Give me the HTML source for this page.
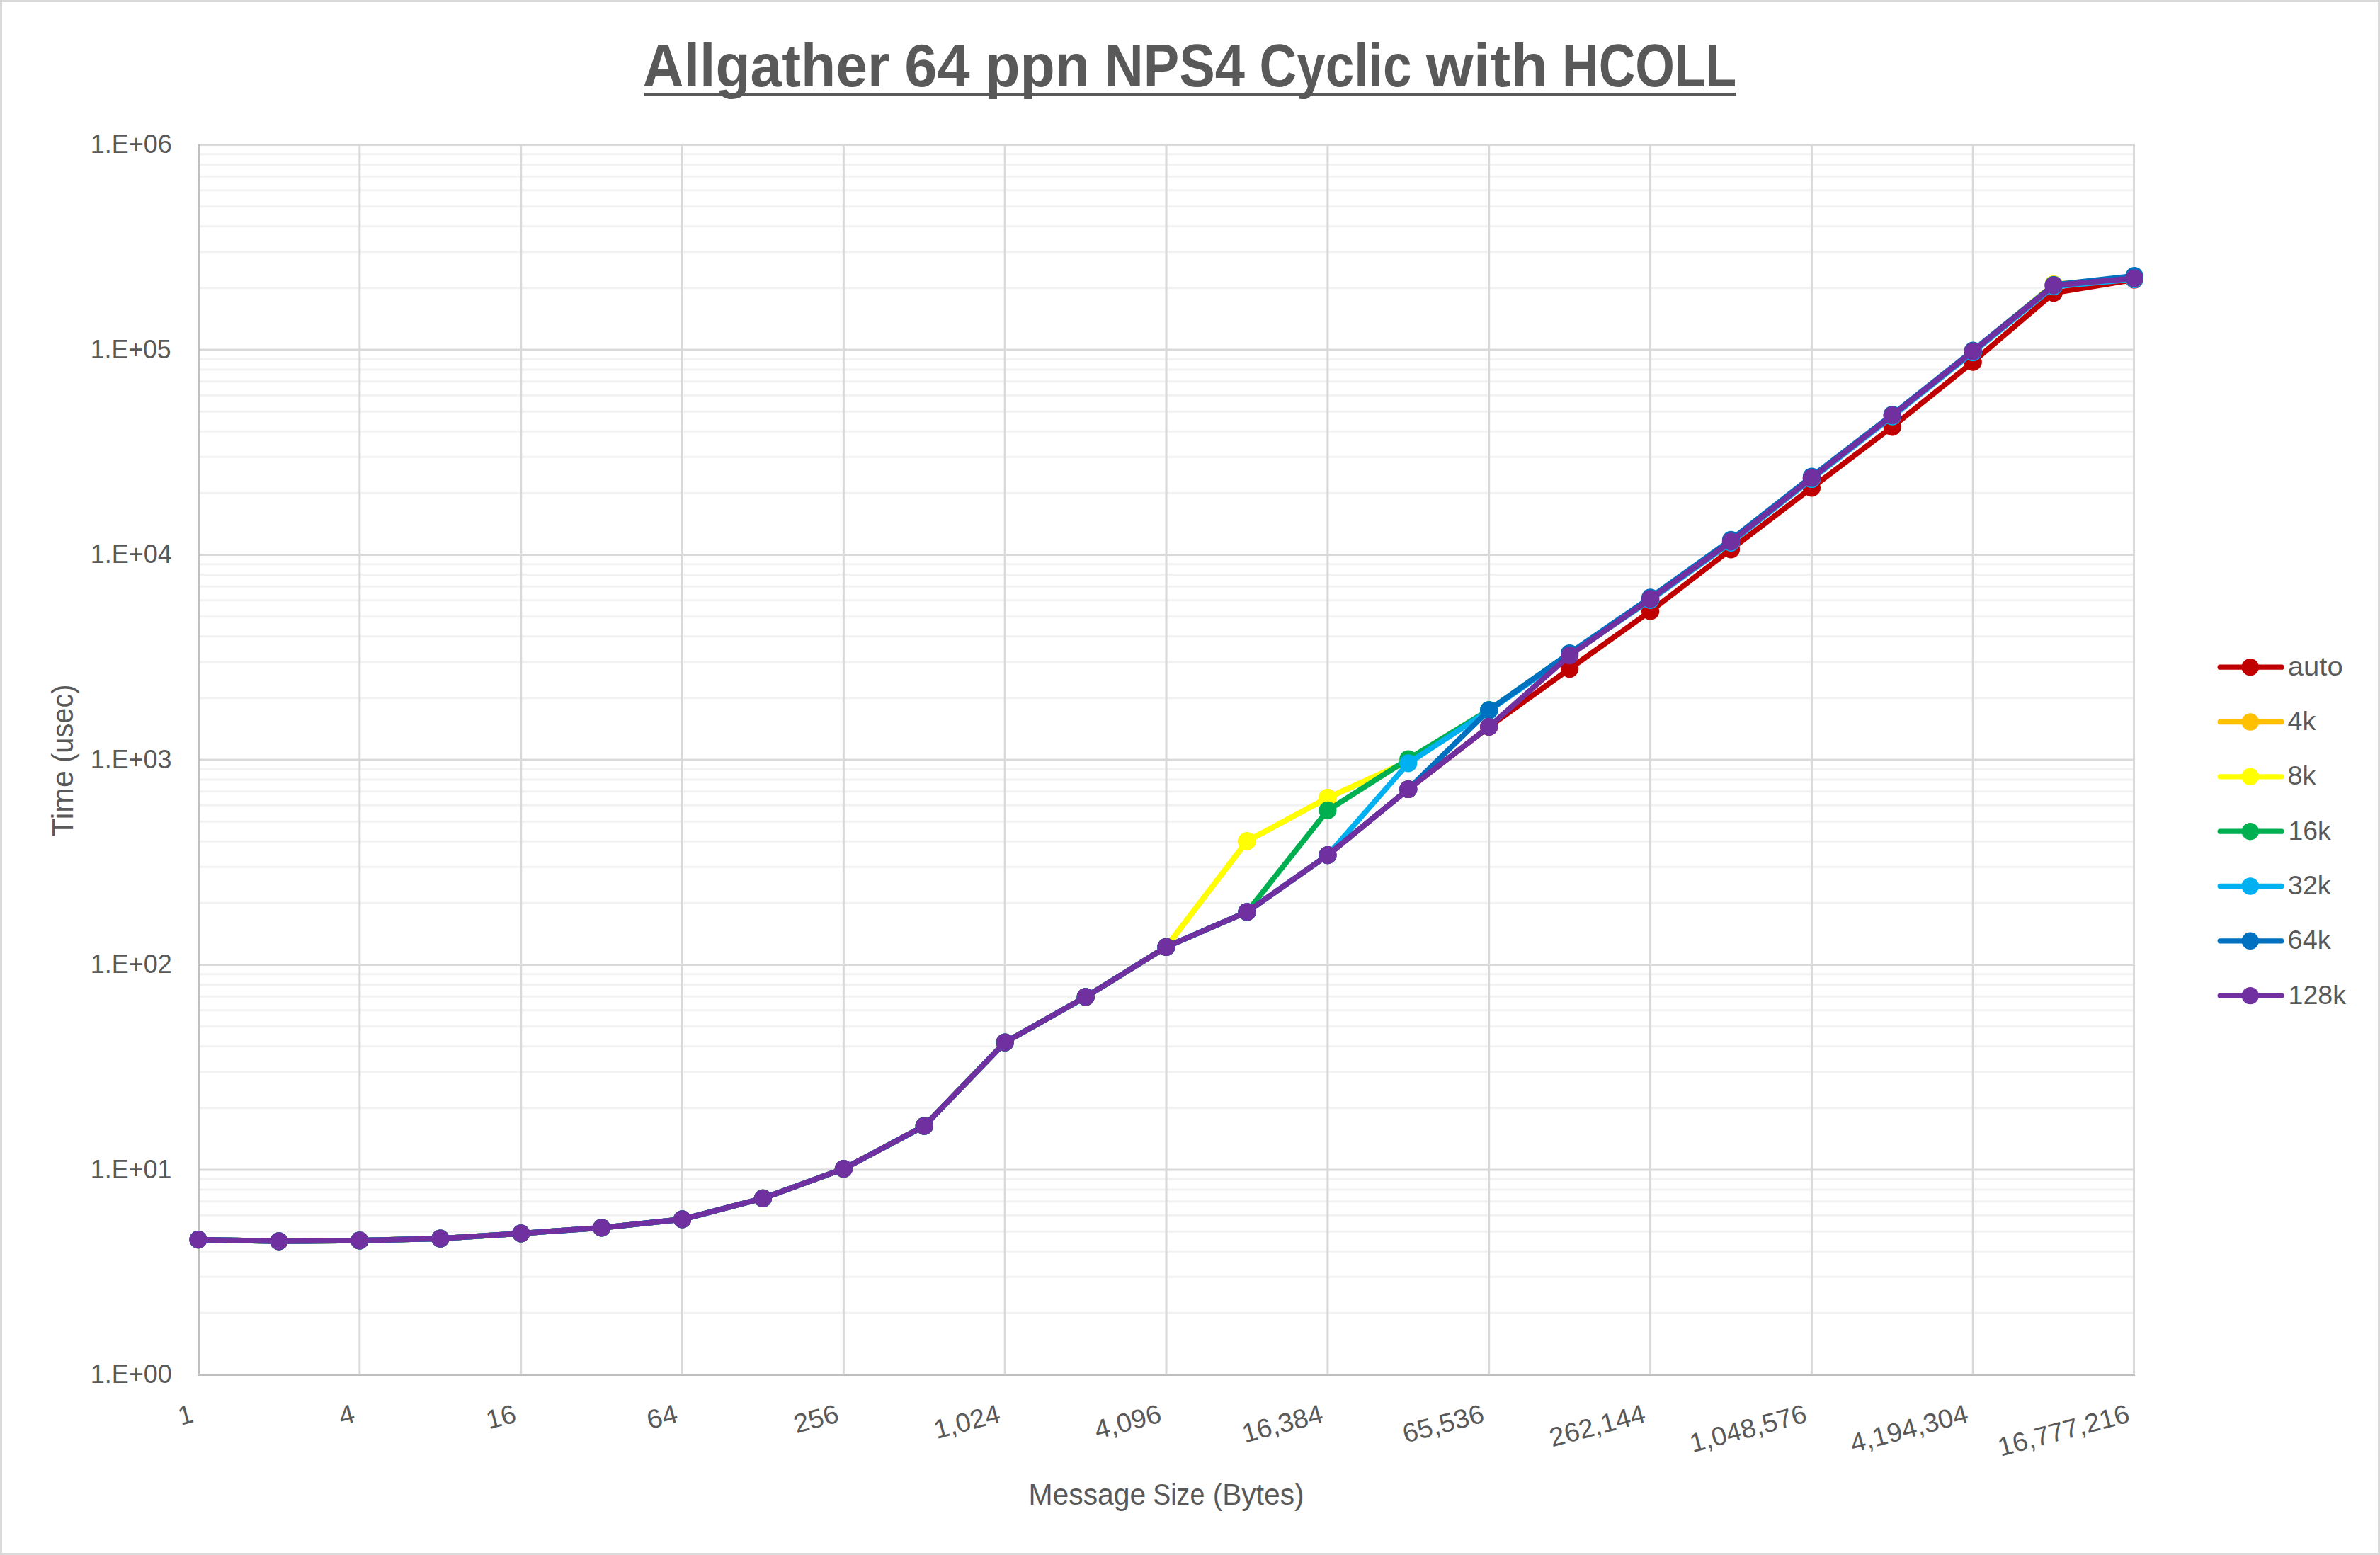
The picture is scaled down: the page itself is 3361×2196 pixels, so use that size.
<!DOCTYPE html>
<html lang="en"><head><meta charset="utf-8"><title>Allgather 64 ppn NPS4 Cyclic with HCOLL</title>
<style>html,body{margin:0;padding:0;background:#fff;}body{width:3361px;height:2196px;overflow:hidden;}svg{display:block;}
text{font-family:"Liberation Sans",sans-serif;fill:#595959;}
</style></head><body>
<svg width="3361" height="2196" viewBox="0 0 3361 2196">
<rect x="0" y="0" width="3361" height="2196" fill="#ffffff"/>
<rect x="1.5" y="1.5" width="3358.0" height="2193.0" fill="none" stroke="#d9d9d9" stroke-width="3"/>
<g stroke="#f2f2f2" stroke-width="3" fill="none">
<line x1="282.0" y1="1854.35" x2="3013.6" y2="1854.35"/>
<line x1="282.0" y1="1803.37" x2="3013.6" y2="1803.37"/>
<line x1="282.0" y1="1767.20" x2="3013.6" y2="1767.20"/>
<line x1="282.0" y1="1739.15" x2="3013.6" y2="1739.15"/>
<line x1="282.0" y1="1716.23" x2="3013.6" y2="1716.23"/>
<line x1="282.0" y1="1696.84" x2="3013.6" y2="1696.84"/>
<line x1="282.0" y1="1680.06" x2="3013.6" y2="1680.06"/>
<line x1="282.0" y1="1665.25" x2="3013.6" y2="1665.25"/>
<line x1="282.0" y1="1564.85" x2="3013.6" y2="1564.85"/>
<line x1="282.0" y1="1513.87" x2="3013.6" y2="1513.87"/>
<line x1="282.0" y1="1477.70" x2="3013.6" y2="1477.70"/>
<line x1="282.0" y1="1449.65" x2="3013.6" y2="1449.65"/>
<line x1="282.0" y1="1426.73" x2="3013.6" y2="1426.73"/>
<line x1="282.0" y1="1407.34" x2="3013.6" y2="1407.34"/>
<line x1="282.0" y1="1390.56" x2="3013.6" y2="1390.56"/>
<line x1="282.0" y1="1375.75" x2="3013.6" y2="1375.75"/>
<line x1="282.0" y1="1275.35" x2="3013.6" y2="1275.35"/>
<line x1="282.0" y1="1224.37" x2="3013.6" y2="1224.37"/>
<line x1="282.0" y1="1188.20" x2="3013.6" y2="1188.20"/>
<line x1="282.0" y1="1160.15" x2="3013.6" y2="1160.15"/>
<line x1="282.0" y1="1137.23" x2="3013.6" y2="1137.23"/>
<line x1="282.0" y1="1117.84" x2="3013.6" y2="1117.84"/>
<line x1="282.0" y1="1101.06" x2="3013.6" y2="1101.06"/>
<line x1="282.0" y1="1086.25" x2="3013.6" y2="1086.25"/>
<line x1="282.0" y1="985.85" x2="3013.6" y2="985.85"/>
<line x1="282.0" y1="934.87" x2="3013.6" y2="934.87"/>
<line x1="282.0" y1="898.70" x2="3013.6" y2="898.70"/>
<line x1="282.0" y1="870.65" x2="3013.6" y2="870.65"/>
<line x1="282.0" y1="847.73" x2="3013.6" y2="847.73"/>
<line x1="282.0" y1="828.34" x2="3013.6" y2="828.34"/>
<line x1="282.0" y1="811.56" x2="3013.6" y2="811.56"/>
<line x1="282.0" y1="796.75" x2="3013.6" y2="796.75"/>
<line x1="282.0" y1="696.35" x2="3013.6" y2="696.35"/>
<line x1="282.0" y1="645.37" x2="3013.6" y2="645.37"/>
<line x1="282.0" y1="609.20" x2="3013.6" y2="609.20"/>
<line x1="282.0" y1="581.15" x2="3013.6" y2="581.15"/>
<line x1="282.0" y1="558.23" x2="3013.6" y2="558.23"/>
<line x1="282.0" y1="538.84" x2="3013.6" y2="538.84"/>
<line x1="282.0" y1="522.06" x2="3013.6" y2="522.06"/>
<line x1="282.0" y1="507.25" x2="3013.6" y2="507.25"/>
<line x1="282.0" y1="406.85" x2="3013.6" y2="406.85"/>
<line x1="282.0" y1="355.87" x2="3013.6" y2="355.87"/>
<line x1="282.0" y1="319.70" x2="3013.6" y2="319.70"/>
<line x1="282.0" y1="291.65" x2="3013.6" y2="291.65"/>
<line x1="282.0" y1="268.73" x2="3013.6" y2="268.73"/>
<line x1="282.0" y1="249.34" x2="3013.6" y2="249.34"/>
<line x1="282.0" y1="232.56" x2="3013.6" y2="232.56"/>
<line x1="282.0" y1="217.75" x2="3013.6" y2="217.75"/>
</g>
<g stroke="#d9d9d9" stroke-width="3" fill="none">
<line x1="280.5" y1="1652.00" x2="3015.1" y2="1652.00"/>
<line x1="280.5" y1="1362.50" x2="3015.1" y2="1362.50"/>
<line x1="280.5" y1="1073.00" x2="3015.1" y2="1073.00"/>
<line x1="280.5" y1="783.50" x2="3015.1" y2="783.50"/>
<line x1="280.5" y1="494.00" x2="3015.1" y2="494.00"/>
<line x1="280.5" y1="204.50" x2="3015.1" y2="204.50"/>
<line x1="507.84" y1="203.0" x2="507.84" y2="1941.5"/>
<line x1="735.68" y1="203.0" x2="735.68" y2="1941.5"/>
<line x1="963.52" y1="203.0" x2="963.52" y2="1941.5"/>
<line x1="1191.36" y1="203.0" x2="1191.36" y2="1941.5"/>
<line x1="1419.20" y1="203.0" x2="1419.20" y2="1941.5"/>
<line x1="1647.04" y1="203.0" x2="1647.04" y2="1941.5"/>
<line x1="1874.88" y1="203.0" x2="1874.88" y2="1941.5"/>
<line x1="2102.72" y1="203.0" x2="2102.72" y2="1941.5"/>
<line x1="2330.56" y1="203.0" x2="2330.56" y2="1941.5"/>
<line x1="2558.40" y1="203.0" x2="2558.40" y2="1941.5"/>
<line x1="2786.24" y1="203.0" x2="2786.24" y2="1941.5"/>
<line x1="3013.50" y1="203.0" x2="3013.50" y2="1941.5"/>
</g>
<g stroke="#bfbfbf" stroke-width="3" fill="none">
<line x1="280.50" y1="203.5" x2="280.50" y2="1943.0"/>
<line x1="279.00" y1="1941.5" x2="3015.10" y2="1941.5"/>
</g>
<g fill="#c00000" stroke="none">
<polyline points="280.0,1750.6 393.9,1752.9 507.8,1751.9 621.8,1749.2 735.7,1741.8 849.6,1733.8 963.5,1721.9 1077.4,1692.3 1191.4,1650.6 1305.3,1590.1 1419.2,1472.1 1533.1,1407.9 1647.0,1337.3 1761.0,1287.8 1874.9,1207.7 1988.8,1114.5 2102.7,1026.4 2216.6,944.5 2330.6,863.2 2444.5,775.8 2558.4,688.9 2672.3,602.8 2786.2,511.2 2900.2,413.7 3014.1,395.0" fill="none" stroke="#c00000" stroke-width="7.7" stroke-linejoin="round" stroke-linecap="round"/>
<circle cx="280.0" cy="1750.6" r="12.6"/>
<circle cx="393.9" cy="1752.9" r="12.6"/>
<circle cx="507.8" cy="1751.9" r="12.6"/>
<circle cx="621.8" cy="1749.2" r="12.6"/>
<circle cx="735.7" cy="1741.8" r="12.6"/>
<circle cx="849.6" cy="1733.8" r="12.6"/>
<circle cx="963.5" cy="1721.9" r="12.6"/>
<circle cx="1077.4" cy="1692.3" r="12.6"/>
<circle cx="1191.4" cy="1650.6" r="12.6"/>
<circle cx="1305.3" cy="1590.1" r="12.6"/>
<circle cx="1419.2" cy="1472.1" r="12.6"/>
<circle cx="1533.1" cy="1407.9" r="12.6"/>
<circle cx="1647.0" cy="1337.3" r="12.6"/>
<circle cx="1761.0" cy="1287.8" r="12.6"/>
<circle cx="1874.9" cy="1207.7" r="12.6"/>
<circle cx="1988.8" cy="1114.5" r="12.6"/>
<circle cx="2102.7" cy="1026.4" r="12.6"/>
<circle cx="2216.6" cy="944.5" r="12.6"/>
<circle cx="2330.6" cy="863.2" r="12.6"/>
<circle cx="2444.5" cy="775.8" r="12.6"/>
<circle cx="2558.4" cy="688.9" r="12.6"/>
<circle cx="2672.3" cy="602.8" r="12.6"/>
<circle cx="2786.2" cy="511.2" r="12.6"/>
<circle cx="2900.2" cy="413.7" r="12.6"/>
<circle cx="3014.1" cy="395.0" r="12.6"/>
</g>
<g fill="#ffc000" stroke="none">
<polyline points="280.0,1750.6 393.9,1752.9 507.8,1751.9 621.8,1749.2 735.7,1741.8 849.6,1733.8 963.5,1721.9 1077.4,1692.3 1191.4,1650.6 1305.3,1590.1 1419.2,1472.1 1533.1,1407.9 1647.0,1337.3 1761.0,1187.9 1874.9,1126.7 1988.8,1075.0 2102.7,1003.2 2216.6,923.5 2330.6,845.8 2444.5,764.8 2558.4,675.0 2672.3,586.7 2786.2,496.1 2900.2,401.6 3014.1,393.0" fill="none" stroke="#ffc000" stroke-width="7.7" stroke-linejoin="round" stroke-linecap="round"/>
<circle cx="280.0" cy="1750.6" r="12.6"/>
<circle cx="393.9" cy="1752.9" r="12.6"/>
<circle cx="507.8" cy="1751.9" r="12.6"/>
<circle cx="621.8" cy="1749.2" r="12.6"/>
<circle cx="735.7" cy="1741.8" r="12.6"/>
<circle cx="849.6" cy="1733.8" r="12.6"/>
<circle cx="963.5" cy="1721.9" r="12.6"/>
<circle cx="1077.4" cy="1692.3" r="12.6"/>
<circle cx="1191.4" cy="1650.6" r="12.6"/>
<circle cx="1305.3" cy="1590.1" r="12.6"/>
<circle cx="1419.2" cy="1472.1" r="12.6"/>
<circle cx="1533.1" cy="1407.9" r="12.6"/>
<circle cx="1647.0" cy="1337.3" r="12.6"/>
<circle cx="1761.0" cy="1187.9" r="12.6"/>
<circle cx="1874.9" cy="1126.7" r="12.6"/>
<circle cx="1988.8" cy="1075.0" r="12.6"/>
<circle cx="2102.7" cy="1003.2" r="12.6"/>
<circle cx="2216.6" cy="923.5" r="12.6"/>
<circle cx="2330.6" cy="845.8" r="12.6"/>
<circle cx="2444.5" cy="764.8" r="12.6"/>
<circle cx="2558.4" cy="675.0" r="12.6"/>
<circle cx="2672.3" cy="586.7" r="12.6"/>
<circle cx="2786.2" cy="496.1" r="12.6"/>
<circle cx="2900.2" cy="401.6" r="12.6"/>
<circle cx="3014.1" cy="393.0" r="12.6"/>
</g>
<g fill="#ffff00" stroke="none">
<polyline points="280.0,1750.6 393.9,1752.9 507.8,1751.9 621.8,1749.2 735.7,1741.8 849.6,1733.8 963.5,1721.9 1077.4,1692.3 1191.4,1650.6 1305.3,1590.1 1419.2,1472.1 1533.1,1407.9 1647.0,1337.3 1761.0,1187.9 1874.9,1126.7 1988.8,1075.0 2102.7,1003.2 2216.6,923.5 2330.6,845.8 2444.5,764.8 2558.4,675.0 2672.3,586.7 2786.2,496.1 2900.2,401.6 3014.1,393.0" fill="none" stroke="#ffff00" stroke-width="7.7" stroke-linejoin="round" stroke-linecap="round"/>
<circle cx="280.0" cy="1750.6" r="12.6"/>
<circle cx="393.9" cy="1752.9" r="12.6"/>
<circle cx="507.8" cy="1751.9" r="12.6"/>
<circle cx="621.8" cy="1749.2" r="12.6"/>
<circle cx="735.7" cy="1741.8" r="12.6"/>
<circle cx="849.6" cy="1733.8" r="12.6"/>
<circle cx="963.5" cy="1721.9" r="12.6"/>
<circle cx="1077.4" cy="1692.3" r="12.6"/>
<circle cx="1191.4" cy="1650.6" r="12.6"/>
<circle cx="1305.3" cy="1590.1" r="12.6"/>
<circle cx="1419.2" cy="1472.1" r="12.6"/>
<circle cx="1533.1" cy="1407.9" r="12.6"/>
<circle cx="1647.0" cy="1337.3" r="12.6"/>
<circle cx="1761.0" cy="1187.9" r="12.6"/>
<circle cx="1874.9" cy="1126.7" r="12.6"/>
<circle cx="1988.8" cy="1075.0" r="12.6"/>
<circle cx="2102.7" cy="1003.2" r="12.6"/>
<circle cx="2216.6" cy="923.5" r="12.6"/>
<circle cx="2330.6" cy="845.8" r="12.6"/>
<circle cx="2444.5" cy="764.8" r="12.6"/>
<circle cx="2558.4" cy="675.0" r="12.6"/>
<circle cx="2672.3" cy="586.7" r="12.6"/>
<circle cx="2786.2" cy="496.1" r="12.6"/>
<circle cx="2900.2" cy="401.6" r="12.6"/>
<circle cx="3014.1" cy="393.0" r="12.6"/>
</g>
<g fill="#00b050" stroke="none">
<polyline points="280.0,1750.6 393.9,1752.9 507.8,1751.9 621.8,1749.2 735.7,1741.8 849.6,1733.8 963.5,1721.9 1077.4,1692.3 1191.4,1650.6 1305.3,1590.1 1419.2,1472.1 1533.1,1407.9 1647.0,1337.3 1761.0,1287.8 1874.9,1144.4 1988.8,1072.0 2102.7,1002.6 2216.6,923.0 2330.6,845.8 2444.5,764.8 2558.4,675.0 2672.3,586.7 2786.2,496.1 2900.2,403.2 3014.1,393.0" fill="none" stroke="#00b050" stroke-width="7.7" stroke-linejoin="round" stroke-linecap="round"/>
<circle cx="280.0" cy="1750.6" r="12.6"/>
<circle cx="393.9" cy="1752.9" r="12.6"/>
<circle cx="507.8" cy="1751.9" r="12.6"/>
<circle cx="621.8" cy="1749.2" r="12.6"/>
<circle cx="735.7" cy="1741.8" r="12.6"/>
<circle cx="849.6" cy="1733.8" r="12.6"/>
<circle cx="963.5" cy="1721.9" r="12.6"/>
<circle cx="1077.4" cy="1692.3" r="12.6"/>
<circle cx="1191.4" cy="1650.6" r="12.6"/>
<circle cx="1305.3" cy="1590.1" r="12.6"/>
<circle cx="1419.2" cy="1472.1" r="12.6"/>
<circle cx="1533.1" cy="1407.9" r="12.6"/>
<circle cx="1647.0" cy="1337.3" r="12.6"/>
<circle cx="1761.0" cy="1287.8" r="12.6"/>
<circle cx="1874.9" cy="1144.4" r="12.6"/>
<circle cx="1988.8" cy="1072.0" r="12.6"/>
<circle cx="2102.7" cy="1002.6" r="12.6"/>
<circle cx="2216.6" cy="923.0" r="12.6"/>
<circle cx="2330.6" cy="845.8" r="12.6"/>
<circle cx="2444.5" cy="764.8" r="12.6"/>
<circle cx="2558.4" cy="675.0" r="12.6"/>
<circle cx="2672.3" cy="586.7" r="12.6"/>
<circle cx="2786.2" cy="496.1" r="12.6"/>
<circle cx="2900.2" cy="403.2" r="12.6"/>
<circle cx="3014.1" cy="393.0" r="12.6"/>
</g>
<g fill="#00b0f0" stroke="none">
<polyline points="280.0,1750.6 393.9,1752.9 507.8,1751.9 621.8,1749.2 735.7,1741.8 849.6,1733.8 963.5,1721.9 1077.4,1692.3 1191.4,1650.6 1305.3,1590.1 1419.2,1472.1 1533.1,1407.9 1647.0,1337.3 1761.0,1287.8 1874.9,1207.7 1988.8,1077.8 2102.7,1003.5 2216.6,924.5 2330.6,847.3 2444.5,766.3 2558.4,676.5 2672.3,588.2 2786.2,497.6 2900.2,404.7 3014.1,394.5" fill="none" stroke="#00b0f0" stroke-width="7.7" stroke-linejoin="round" stroke-linecap="round"/>
<circle cx="280.0" cy="1750.6" r="12.6"/>
<circle cx="393.9" cy="1752.9" r="12.6"/>
<circle cx="507.8" cy="1751.9" r="12.6"/>
<circle cx="621.8" cy="1749.2" r="12.6"/>
<circle cx="735.7" cy="1741.8" r="12.6"/>
<circle cx="849.6" cy="1733.8" r="12.6"/>
<circle cx="963.5" cy="1721.9" r="12.6"/>
<circle cx="1077.4" cy="1692.3" r="12.6"/>
<circle cx="1191.4" cy="1650.6" r="12.6"/>
<circle cx="1305.3" cy="1590.1" r="12.6"/>
<circle cx="1419.2" cy="1472.1" r="12.6"/>
<circle cx="1533.1" cy="1407.9" r="12.6"/>
<circle cx="1647.0" cy="1337.3" r="12.6"/>
<circle cx="1761.0" cy="1287.8" r="12.6"/>
<circle cx="1874.9" cy="1207.7" r="12.6"/>
<circle cx="1988.8" cy="1077.8" r="12.6"/>
<circle cx="2102.7" cy="1003.5" r="12.6"/>
<circle cx="2216.6" cy="924.5" r="12.6"/>
<circle cx="2330.6" cy="847.3" r="12.6"/>
<circle cx="2444.5" cy="766.3" r="12.6"/>
<circle cx="2558.4" cy="676.5" r="12.6"/>
<circle cx="2672.3" cy="588.2" r="12.6"/>
<circle cx="2786.2" cy="497.6" r="12.6"/>
<circle cx="2900.2" cy="404.7" r="12.6"/>
<circle cx="3014.1" cy="394.5" r="12.6"/>
</g>
<g fill="#0070c0" stroke="none">
<polyline points="280.0,1750.6 393.9,1752.9 507.8,1751.9 621.8,1749.2 735.7,1741.8 849.6,1733.8 963.5,1721.9 1077.4,1692.3 1191.4,1650.6 1305.3,1590.1 1419.2,1472.1 1533.1,1407.9 1647.0,1337.3 1761.0,1287.8 1874.9,1207.7 1988.8,1114.5 2102.7,1002.9 2216.6,922.5 2330.6,843.8 2444.5,762.3 2558.4,673.0 2672.3,585.5 2786.2,495.1 2900.2,402.4 3014.1,389.7" fill="none" stroke="#0070c0" stroke-width="7.7" stroke-linejoin="round" stroke-linecap="round"/>
<circle cx="280.0" cy="1750.6" r="12.6"/>
<circle cx="393.9" cy="1752.9" r="12.6"/>
<circle cx="507.8" cy="1751.9" r="12.6"/>
<circle cx="621.8" cy="1749.2" r="12.6"/>
<circle cx="735.7" cy="1741.8" r="12.6"/>
<circle cx="849.6" cy="1733.8" r="12.6"/>
<circle cx="963.5" cy="1721.9" r="12.6"/>
<circle cx="1077.4" cy="1692.3" r="12.6"/>
<circle cx="1191.4" cy="1650.6" r="12.6"/>
<circle cx="1305.3" cy="1590.1" r="12.6"/>
<circle cx="1419.2" cy="1472.1" r="12.6"/>
<circle cx="1533.1" cy="1407.9" r="12.6"/>
<circle cx="1647.0" cy="1337.3" r="12.6"/>
<circle cx="1761.0" cy="1287.8" r="12.6"/>
<circle cx="1874.9" cy="1207.7" r="12.6"/>
<circle cx="1988.8" cy="1114.5" r="12.6"/>
<circle cx="2102.7" cy="1002.9" r="12.6"/>
<circle cx="2216.6" cy="922.5" r="12.6"/>
<circle cx="2330.6" cy="843.8" r="12.6"/>
<circle cx="2444.5" cy="762.3" r="12.6"/>
<circle cx="2558.4" cy="673.0" r="12.6"/>
<circle cx="2672.3" cy="585.5" r="12.6"/>
<circle cx="2786.2" cy="495.1" r="12.6"/>
<circle cx="2900.2" cy="402.4" r="12.6"/>
<circle cx="3014.1" cy="389.7" r="12.6"/>
</g>
<g fill="#7030a0" stroke="none">
<polyline points="280.0,1750.6 393.9,1752.9 507.8,1751.9 621.8,1749.2 735.7,1741.8 849.6,1733.8 963.5,1721.9 1077.4,1692.3 1191.4,1650.6 1305.3,1590.1 1419.2,1472.1 1533.1,1407.9 1647.0,1337.3 1761.0,1287.8 1874.9,1207.7 1988.8,1114.5 2102.7,1026.4 2216.6,925.7 2330.6,845.8 2444.5,764.8 2558.4,675.0 2672.3,586.7 2786.2,496.1 2900.2,403.2 3014.1,393.0" fill="none" stroke="#7030a0" stroke-width="7.7" stroke-linejoin="round" stroke-linecap="round"/>
<circle cx="280.0" cy="1750.6" r="12.6"/>
<circle cx="393.9" cy="1752.9" r="12.6"/>
<circle cx="507.8" cy="1751.9" r="12.6"/>
<circle cx="621.8" cy="1749.2" r="12.6"/>
<circle cx="735.7" cy="1741.8" r="12.6"/>
<circle cx="849.6" cy="1733.8" r="12.6"/>
<circle cx="963.5" cy="1721.9" r="12.6"/>
<circle cx="1077.4" cy="1692.3" r="12.6"/>
<circle cx="1191.4" cy="1650.6" r="12.6"/>
<circle cx="1305.3" cy="1590.1" r="12.6"/>
<circle cx="1419.2" cy="1472.1" r="12.6"/>
<circle cx="1533.1" cy="1407.9" r="12.6"/>
<circle cx="1647.0" cy="1337.3" r="12.6"/>
<circle cx="1761.0" cy="1287.8" r="12.6"/>
<circle cx="1874.9" cy="1207.7" r="12.6"/>
<circle cx="1988.8" cy="1114.5" r="12.6"/>
<circle cx="2102.7" cy="1026.4" r="12.6"/>
<circle cx="2216.6" cy="925.7" r="12.6"/>
<circle cx="2330.6" cy="845.8" r="12.6"/>
<circle cx="2444.5" cy="764.8" r="12.6"/>
<circle cx="2558.4" cy="675.0" r="12.6"/>
<circle cx="2672.3" cy="586.7" r="12.6"/>
<circle cx="2786.2" cy="496.1" r="12.6"/>
<circle cx="2900.2" cy="403.2" r="12.6"/>
<circle cx="3014.1" cy="393.0" r="12.6"/>
</g>
<line x1="3135.2" y1="942.2" x2="3222.0" y2="942.2" stroke="#c00000" stroke-width="7.3" stroke-linecap="round"/>
<circle cx="3177.8" cy="942.2" r="12.2" fill="#c00000"/>
<line x1="3135.2" y1="1019.5" x2="3222.0" y2="1019.5" stroke="#ffc000" stroke-width="7.3" stroke-linecap="round"/>
<circle cx="3177.8" cy="1019.5" r="12.2" fill="#ffc000"/>
<line x1="3135.2" y1="1096.8" x2="3222.0" y2="1096.8" stroke="#ffff00" stroke-width="7.3" stroke-linecap="round"/>
<circle cx="3177.8" cy="1096.8" r="12.2" fill="#ffff00"/>
<line x1="3135.2" y1="1174.2" x2="3222.0" y2="1174.2" stroke="#00b050" stroke-width="7.3" stroke-linecap="round"/>
<circle cx="3177.8" cy="1174.2" r="12.2" fill="#00b050"/>
<line x1="3135.2" y1="1251.5" x2="3222.0" y2="1251.5" stroke="#00b0f0" stroke-width="7.3" stroke-linecap="round"/>
<circle cx="3177.8" cy="1251.5" r="12.2" fill="#00b0f0"/>
<line x1="3135.2" y1="1328.8" x2="3222.0" y2="1328.8" stroke="#0070c0" stroke-width="7.3" stroke-linecap="round"/>
<circle cx="3177.8" cy="1328.8" r="12.2" fill="#0070c0"/>
<line x1="3135.2" y1="1406.1" x2="3222.0" y2="1406.1" stroke="#7030a0" stroke-width="7.3" stroke-linecap="round"/>
<circle cx="3177.8" cy="1406.1" r="12.2" fill="#7030a0"/>
<text font-size="84.33" font-weight="bold"><tspan x="907.58" y="122.3" textLength="348.77" lengthAdjust="spacingAndGlyphs">Allgather</tspan> <tspan x="1277.34" y="122.3" textLength="92.22" lengthAdjust="spacingAndGlyphs">64</tspan> <tspan x="1391.33" y="122.3" textLength="147.80" lengthAdjust="spacingAndGlyphs">ppn</tspan> <tspan x="1559.95" y="122.3" textLength="197.86" lengthAdjust="spacingAndGlyphs">NPS4</tspan> <tspan x="1778.59" y="122.3" textLength="214.87" lengthAdjust="spacingAndGlyphs">Cyclic</tspan> <tspan x="2013.69" y="122.3" textLength="172.20" lengthAdjust="spacingAndGlyphs">with</tspan> <tspan x="2206.09" y="122.3" textLength="246.10" lengthAdjust="spacingAndGlyphs">HCOLL</tspan></text>
<text font-size="37.42"><tspan x="127.72" y="1953.3" textLength="114.95" lengthAdjust="spacingAndGlyphs">1.E+00</tspan></text>
<text font-size="37.42"><tspan x="127.72" y="1663.8" textLength="114.67" lengthAdjust="spacingAndGlyphs">1.E+01</tspan></text>
<text font-size="37.42"><tspan x="127.72" y="1374.3" textLength="114.93" lengthAdjust="spacingAndGlyphs">1.E+02</tspan></text>
<text font-size="37.42"><tspan x="127.72" y="1084.8" textLength="114.68" lengthAdjust="spacingAndGlyphs">1.E+03</tspan></text>
<text font-size="37.42"><tspan x="127.71" y="795.3" textLength="115.22" lengthAdjust="spacingAndGlyphs">1.E+04</tspan></text>
<text font-size="37.42"><tspan x="127.74" y="505.8" textLength="113.90" lengthAdjust="spacingAndGlyphs">1.E+05</tspan></text>
<text font-size="37.42"><tspan x="127.72" y="216.3" textLength="114.94" lengthAdjust="spacingAndGlyphs">1.E+06</tspan></text>
<text transform="translate(275.0,2007.8) rotate(-15)" font-size="37.42"><tspan x="-20.21" y="0.0" textLength="20.17" lengthAdjust="spacingAndGlyphs">1</tspan></text>
<text transform="translate(502.8,2007.8) rotate(-15)" font-size="37.42"><tspan x="-21.33" y="0.0" textLength="21.63" lengthAdjust="spacingAndGlyphs">4</tspan></text>
<text transform="translate(730.7,2007.8) rotate(-15)" font-size="37.42"><tspan x="-41.60" y="0.0" textLength="41.89" lengthAdjust="spacingAndGlyphs">16</tspan></text>
<text transform="translate(958.5,2007.8) rotate(-15)" font-size="37.42"><tspan x="-42.66" y="0.0" textLength="43.23" lengthAdjust="spacingAndGlyphs">64</tspan></text>
<text transform="translate(1186.4,2007.8) rotate(-15)" font-size="37.42"><tspan x="-63.93" y="0.0" textLength="64.28" lengthAdjust="spacingAndGlyphs">256</tspan></text>
<text transform="translate(1414.2,2007.8) rotate(-15)" font-size="37.42"><tspan x="-94.69" y="0.0" textLength="95.17" lengthAdjust="spacingAndGlyphs">1,024</tspan></text>
<text transform="translate(1642.0,2007.8) rotate(-15)" font-size="37.42"><tspan x="-95.66" y="0.0" textLength="95.92" lengthAdjust="spacingAndGlyphs">4,096</tspan></text>
<text transform="translate(1869.9,2007.8) rotate(-15)" font-size="37.42"><tspan x="-115.97" y="0.0" textLength="116.49" lengthAdjust="spacingAndGlyphs">16,384</tspan></text>
<text transform="translate(2097.7,2007.8) rotate(-15)" font-size="37.42"><tspan x="-116.97" y="0.0" textLength="117.26" lengthAdjust="spacingAndGlyphs">65,536</tspan></text>
<text transform="translate(2325.6,2007.8) rotate(-15)" font-size="37.42"><tspan x="-138.25" y="0.0" textLength="138.54" lengthAdjust="spacingAndGlyphs">262,144</tspan></text>
<text transform="translate(2553.4,2007.8) rotate(-15)" font-size="37.42"><tspan x="-169.02" y="0.0" textLength="169.25" lengthAdjust="spacingAndGlyphs">1,048,576</tspan></text>
<text transform="translate(2781.2,2007.8) rotate(-15)" font-size="37.42"><tspan x="-169.99" y="0.0" textLength="170.47" lengthAdjust="spacingAndGlyphs">4,194,304</tspan></text>
<text transform="translate(3009.1,2007.8) rotate(-15)" font-size="37.42"><tspan x="-190.31" y="0.0" textLength="190.55" lengthAdjust="spacingAndGlyphs">16,777,216</tspan></text>
<text font-size="42.41"><tspan x="1452.47" y="2125.0" textLength="165.83" lengthAdjust="spacingAndGlyphs">Message</tspan> <tspan x="1628.26" y="2125.0" textLength="73.01" lengthAdjust="spacingAndGlyphs">Size</tspan> <tspan x="1712.63" y="2125.0" textLength="129.05" lengthAdjust="spacingAndGlyphs">(Bytes)</tspan></text>
<text transform="translate(103.0,1073.4) rotate(-90)" font-size="42.04"><tspan x="-108.44" y="0.0" textLength="93.65" lengthAdjust="spacingAndGlyphs">Time</tspan> <tspan x="-3.58" y="0.0" textLength="110.51" lengthAdjust="spacingAndGlyphs">(usec)</tspan></text>
<text font-size="37.42"><tspan x="3230.74" y="953.6" textLength="78.03" lengthAdjust="spacingAndGlyphs">auto</tspan></text>
<text font-size="37.42"><tspan x="3230.60" y="1030.9" textLength="39.77" lengthAdjust="spacingAndGlyphs">4k</tspan></text>
<text font-size="37.42"><tspan x="3230.59" y="1108.2" textLength="39.78" lengthAdjust="spacingAndGlyphs">8k</tspan></text>
<text font-size="37.42"><tspan x="3231.61" y="1185.6" textLength="60.05" lengthAdjust="spacingAndGlyphs">16k</tspan></text>
<text font-size="37.42"><tspan x="3231.09" y="1262.9" textLength="60.57" lengthAdjust="spacingAndGlyphs">32k</tspan></text>
<text font-size="37.42"><tspan x="3230.57" y="1340.2" textLength="61.09" lengthAdjust="spacingAndGlyphs">64k</tspan></text>
<text font-size="37.42"><tspan x="3231.59" y="1417.5" textLength="81.38" lengthAdjust="spacingAndGlyphs">128k</tspan></text>
<rect x="910" y="131" width="1541" height="5" fill="#595959"/>
</svg></body></html>
